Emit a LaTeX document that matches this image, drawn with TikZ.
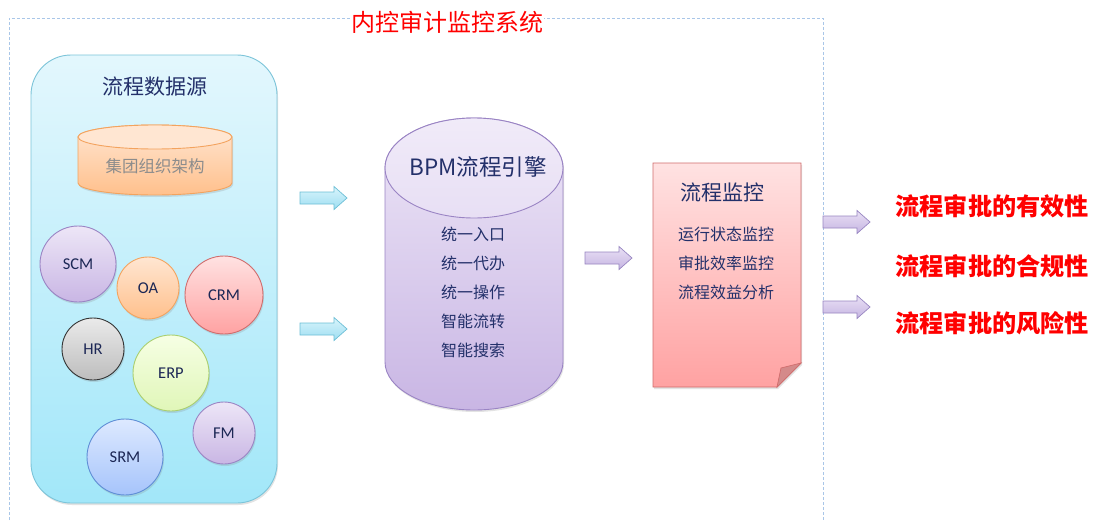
\documentclass[tikz,border=0pt]{standalone}
\usepackage{fontspec}
\setmainfont{Carlito}
\newfontfamily\cjk{Noto Sans CJK SC}
\usetikzlibrary{shadows}
\definecolor{navy}{HTML}{23306A}
\definecolor{dashblue}{HTML}{A9C6E8}
\definecolor{panTop}{HTML}{E3F7FD}
\definecolor{panBot}{HTML}{A2E7F9}
\definecolor{panLine}{HTML}{7CC4D9}
\definecolor{lavTop}{HTML}{EDE6F7}
\definecolor{lavBot}{HTML}{C9B6E4}
\definecolor{lavLine}{HTML}{9A84C4}
\definecolor{orTop}{HTML}{FFE6D2}
\definecolor{orBot}{HTML}{FFC08C}
\definecolor{orLine}{HTML}{F3A35E}
\definecolor{rdTop}{HTML}{FFE2E2}
\definecolor{rdBot}{HTML}{FFA2A2}
\definecolor{rdLine}{HTML}{D06C6C}
\definecolor{rdFold}{HTML}{D48A8A}
\definecolor{gyTop}{HTML}{EAEAEA}
\definecolor{gyBot}{HTML}{BDBDBD}
\definecolor{gnTop}{HTML}{F6FFE4}
\definecolor{gnBot}{HTML}{E0F6B8}
\definecolor{gnLine}{HTML}{A9CF6F}
\definecolor{blTop}{HTML}{DDE9FF}
\definecolor{blBot}{HTML}{A6C4FB}
\definecolor{blLine}{HTML}{5F8ED6}
\definecolor{caTop}{HTML}{D8F5FC}
\definecolor{caBot}{HTML}{9EDDF1}
\definecolor{caLine}{HTML}{6CBFD6}
\definecolor{paTop}{HTML}{E9E1F5}
\definecolor{paBot}{HTML}{C6B4E2}
\definecolor{paLine}{HTML}{9886C2}
\tikzset{
  x=1pt,y=1pt,
  shd/.style={drop shadow={opacity=0.22,shadow xshift=1pt,shadow yshift=-2pt}},
  sys/.style={circle,draw,line width=0.9pt,shd,text=navy!80!black,font=\fontsize{16.5}{19}\selectfont,inner sep=0pt},
  cyanarr/.style={draw=caLine,top color=caTop,bottom color=caBot,line width=0.7pt},
  purparr/.style={draw=paLine,top color=paTop,bottom color=paBot,line width=0.7pt},
  headtxt/.style={text=navy,font=\cjk\fontsize{21}{25}\selectfont},
  itemtxt/.style={text=navy,font=\cjk\fontsize{16}{29.2}\selectfont,align=center},
  redtxt/.style={text=red,font=\cjk\bfseries\fontsize{24.2}{28}\selectfont,anchor=west},
  barrow/.pic={\path[pic actions] (0,6) -- (34,6) -- (34,11.5) -- (47,0) -- (34,-11.5) -- (34,-6) -- (0,-6) -- cycle;}
}
\begin{document}
\begin{tikzpicture}
\useasboundingbox (0,0) rectangle (1093,-522);
\fill[white] (0,0) rectangle (1093,-522);
% outer dashed frame
\draw[dashblue,line width=0.9pt,dash pattern=on 3pt off 2pt] (9,-530) -- (9,-18) -- (823,-18) -- (823,-530);
\node[fill=white,inner xsep=1pt,inner ysep=0pt,text=red,font=\cjk\fontsize{24}{28}\selectfont] (title) at (447,-22) {内控审计监控系统};

% data source panel
\node[draw=panLine,line width=0.9pt,rounded corners=40pt,minimum width=246pt,minimum height=448pt,
      top color=panTop,bottom color=panBot,shd] (src) at (154,-279) {};
\node[headtxt] (srct) at (155,-87) {流程数据源};

% orange cylinder
\path[draw=orLine,line width=0.9pt,top color=orTop,bottom color=orBot,shd]
  (78,-137) -- (78,-183) arc[start angle=180,end angle=360,x radius=77,y radius=12]
  -- (232,-137) arc[start angle=0,end angle=180,x radius=77,y radius=12] -- cycle;
\draw[orLine,line width=0.9pt,fill=orTop] (155,-137) ellipse[x radius=77,y radius=12];
\node[text=black!45,font=\cjk\fontsize{16.5}{20}\selectfont] (org) at (155,-166) {集团组织架构};

% system circles
\node[sys,minimum size=76pt,draw=lavLine,top color=lavTop,bottom color=lavBot] (scm) at (78,-264) {SCM};
\node[sys,minimum size=62pt,draw=orLine,top color=orTop,bottom color=orBot] (oa) at (148,-288) {OA};
\node[sys,minimum size=78pt,draw=rdLine,top color=rdTop,bottom color=rdBot] (crm) at (224,-295) {CRM};
\node[sys,minimum size=62pt,draw=black!80,top color=gyTop,bottom color=gyBot] (hr) at (93,-349) {HR};
\node[sys,minimum size=76pt,draw=gnLine,top color=gnTop,bottom color=gnBot] (erp) at (171,-373) {ERP};
\node[sys,minimum size=62pt,draw=lavLine,top color=lavTop,bottom color=lavBot] (fm) at (224,-433) {FM};
\node[sys,minimum size=76pt,draw=blLine,top color=blTop,bottom color=blBot] (srm) at (125,-457) {SRM};

% cyan arrows
\coordinate (ca1) at (300,-198);
\coordinate (ca2) at (300,-329);
\pic[cyanarr,shd] at (ca1) {barrow};
\pic[cyanarr,shd] at (ca2) {barrow};

% BPM cylinder
\path[draw=lavLine,line width=0.9pt,top color=lavTop,bottom color=lavBot,shd]
  (385,-168) -- (385,-362) arc[start angle=180,end angle=360,x radius=89,y radius=48]
  -- (563,-168) arc[start angle=0,end angle=180,x radius=89,y radius=50] -- cycle;
\draw[lavLine,line width=0.9pt,top color=lavTop!80!white,bottom color=lavTop!85!lavBot] (474,-168) ellipse[x radius=89,y radius=50];
\node[text=navy,font=\cjk\fontsize{22.5}{27}\selectfont] (bpm) at (478,-167) {BPM流程引擎};
\node[itemtxt,anchor=north] (bpmi) at (473,-223) {统一入口\\统一代办\\统一操作\\智能流转\\智能搜索};

% purple middle arrow
\coordinate (pa1) at (585,-258);
\pic[purparr,shd] at (pa1) {barrow};

% document shape
\path[draw=rdLine,line width=0.9pt,top color=rdTop,bottom color=rdBot,shd]
  (653,-163) -- (801,-163) -- (801,-363) -- (777,-387) -- (653,-387) -- cycle;
\path[draw=rdLine,line width=0.7pt,fill=rdFold]
  (777,-387) -- (781,-368) -- (801,-363) -- cycle;
\node[headtxt] (mon) at (722,-192) {流程监控};
\node[itemtxt,anchor=north] (moni) at (726,-223) {运行状态监控\\审批效率监控\\流程效益分析};

% right arrows
\coordinate (pa2) at (823,-222);
\coordinate (pa3) at (823,-307);
\pic[purparr,shd] at (pa2) {barrow};
\pic[purparr,shd] at (pa3) {barrow};

% results
\node[redtxt] (r1) at (892,-206) {流程审批的有效性};
\node[redtxt] (r2) at (892,-266) {流程审批的合规性};
\node[redtxt] (r3) at (892,-323) {流程审批的风险性};
\end{tikzpicture}
\end{document}
